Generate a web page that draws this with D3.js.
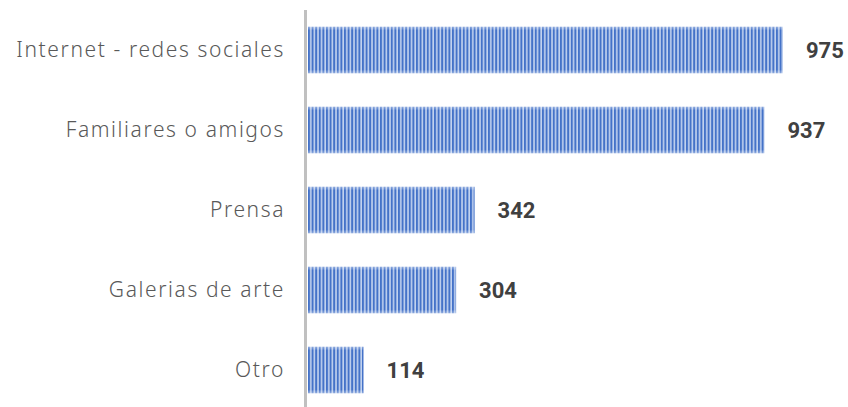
<!DOCTYPE html>
<html>
<head>
<meta charset="utf-8">
<script src="https://cdn.jsdelivr.net/npm/d3@7"></script>
<style>
  body { margin: 0; background: #fff; }
</style>
</head>
<body>
<div id="chart"></div>
<script>
// data
var categories = ["Internet - redes sociales", "Familiares o amigos", "Prensa", "Galerias de arte", "Otro"];
var values = [975, 937, 342, 304, 114];

var width = 848, height = 407;
var margin = {top: 10, right: 65, bottom: 0, left: 308};

var svg = d3.select("#chart")
  .append("svg")
  .attr("width", width)
  .attr("height", height);

// striped fill like the original
var defs = svg.append("defs");
var fade = defs.append("linearGradient")
  .attr("id", "fade")
  .attr("x1", 0).attr("y1", 0).attr("x2", 0).attr("y2", 1);
fade.append("stop").attr("offset", "0%").attr("stop-color", "#fff").attr("stop-opacity", 0.4);
fade.append("stop").attr("offset", "8%").attr("stop-color", "#fff").attr("stop-opacity", 0);
fade.append("stop").attr("offset", "92%").attr("stop-color", "#fff").attr("stop-opacity", 0);
fade.append("stop").attr("offset", "100%").attr("stop-color", "#fff").attr("stop-opacity", 0.4);

var pat = defs.append("pattern")
  .attr("id", "stripes")
  .attr("patternUnits", "userSpaceOnUse")
  .attr("x", 308)
  .attr("width", 3.6)
  .attr("height", 10);
pat.append("rect").attr("width", 3.6).attr("height", 10).attr("fill", "#c3d3ef");
pat.append("rect").attr("width", 2).attr("height", 10).attr("fill", "#4472c8");

var x = d3.scaleLinear()
  .domain([0, 975])
  .range([margin.left, 783]);

var y = d3.scaleBand()
  .domain(categories)
  .range([margin.top, 410])
  .paddingInner(0.42)
  .paddingOuter(0.21);

// bars
var bars = svg.selectAll(".bar")
  .data(categories)
  .enter().append("g")
  .attr("class", "bar");

bars.append("rect")
  .attr("x", x(0))
  .attr("y", function(d) { return y(d); })
  .attr("width", function(d, i) { return x(values[i]) - x(0); })
  .attr("height", y.bandwidth())
  .attr("fill", "url(#stripes)");

bars.append("rect")
  .attr("x", x(0))
  .attr("y", function(d) { return y(d); })
  .attr("width", function(d, i) { return x(values[i]) - x(0); })
  .attr("height", y.bandwidth())
  .attr("fill", "url(#fade)");

// value labels
bars.append("text")
  .attr("x", function(d, i) { return x(values[i]) + 23; })
  .attr("y", function(d) { return y(d) + y.bandwidth() / 2; })
  .attr("dy", "0.36em")
  .style("font-family", "Roboto, Arial, sans-serif")
  .style("font-weight", "bold")
  .style("font-size", "22px")
  .style("fill", "#404040")
  .text(function(d, i) { return values[i]; });

// y axis (labels only)
var yAxis = svg.append("g")
  .attr("transform", "translate(" + (margin.left - 3) + ",0)")
  .call(d3.axisLeft(y).tickSize(0).tickPadding(20));
yAxis.select(".domain").remove();
yAxis.selectAll("text")
  .attr("dy", "0.35em")
  .style("font-family", "'Noto Sans', sans-serif")
  .style("font-weight", "300")
  .style("font-size", "21px")
  .style("letter-spacing", "1.6px")
  .style("fill", "#595959");

// axis line
svg.append("line")
  .attr("x1", margin.left - 2.5).attr("x2", margin.left - 2.5)
  .attr("y1", margin.top).attr("y2", height)
  .attr("stroke", "#c0c0c0")
  .attr("stroke-width", 3);
</script>
</body>
</html>
